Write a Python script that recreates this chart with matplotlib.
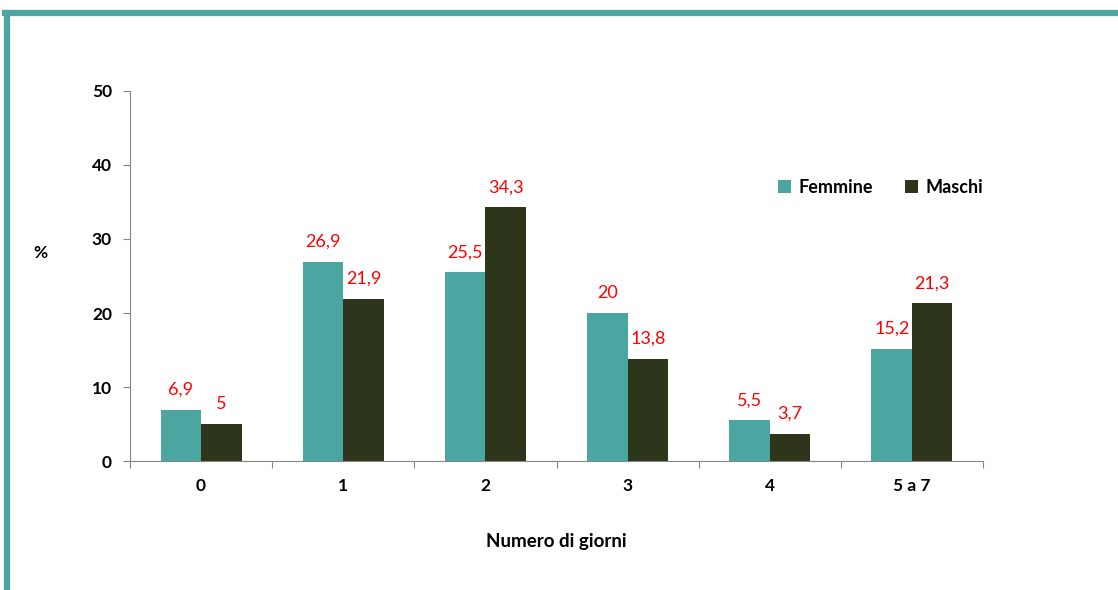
import numpy as np
import matplotlib.pyplot as plt
from matplotlib.lines import Line2D

categorie = ["0", "1", "2", "3", "4", "5 a 7"]
femmine = [6.9, 26.9, 25.5, 20, 5.5, 15.2]
maschi = [5, 21.9, 34.3, 13.8, 3.7, 21.3]
etichette_f = ["6,9", "26,9", "25,5", "20", "5,5", "15,2"]
etichette_m = ["5", "21,9", "34,3", "13,8", "3,7", "21,3"]

plt.rcParams['font.family'] = ['Lato', 'DejaVu Sans']

teal = "#4BA6A2"
scuro = "#2D361A"
grigio = "#868686"

fig = plt.figure(figsize=(11.18, 5.9), dpi=100)

# cornice verde in alto e a sinistra
fig.add_artist(Line2D([0.0045, 1], [0.9775, 0.9775], color=teal, lw=4.5, transform=fig.transFigure))
fig.add_artist(Line2D([0.0063, 0.0063], [0, 0.9775], color=teal, lw=4.5, transform=fig.transFigure))

ax = fig.add_axes([0.1163, 0.2186, 0.7630, 0.6272])
x = np.arange(len(categorie))
w = 0.285
b1 = ax.bar(x - w/2, femmine, w, color=teal, label="Femmine")
b2 = ax.bar(x + w/2, maschi, w, color=scuro, label="Maschi")

for rect, t in zip(b1, etichette_f):
    ax.text(rect.get_x() + rect.get_width()/2, rect.get_height() + 1.6, t,
            ha="center", va="bottom", color="red", fontsize=13)
for rect, t in zip(b2, etichette_m):
    ax.text(rect.get_x() + rect.get_width()/2, rect.get_height() + 1.6, t,
            ha="center", va="bottom", color="red", fontsize=13)

ax.set_xlim(-0.5, len(categorie) - 0.5)
ax.set_ylim(0, 50)
ax.set_yticks([0, 10, 20, 30, 40, 50])
ax.set_xticks(np.arange(-0.5, len(categorie)), labels=[])
ax.set_xticks(x, labels=categorie, minor=True)
ax.tick_params(axis="x", which="major", length=5, color=grigio)
ax.tick_params(axis="x", which="minor", length=0, pad=12)
ax.tick_params(axis="y", length=5, color=grigio, pad=8)
for lab in ax.get_xticklabels(minor=True) + ax.get_yticklabels():
    lab.set_fontweight("bold")
    lab.set_fontsize(12.5)

for s in ["top", "right"]:
    ax.spines[s].set_visible(False)
for s in ["left", "bottom"]:
    ax.spines[s].set_color(grigio)

ax.set_xlabel("Numero di giorni", fontsize=13.5, fontweight="bold", labelpad=28)
fig.text(0.036, 0.571, "%", fontsize=12.5, fontweight="bold", ha="center", va="center")

ax.legend(loc="center left", bbox_to_anchor=(0.76, 0.74), ncol=2, frameon=False,
          borderaxespad=0, borderpad=0,
          handlelength=0.7, handleheight=0.7, handletextpad=0.4, columnspacing=1.8,
          prop={"weight": "bold", "size": 13})

fig.savefig("out.png", dpi=100)
